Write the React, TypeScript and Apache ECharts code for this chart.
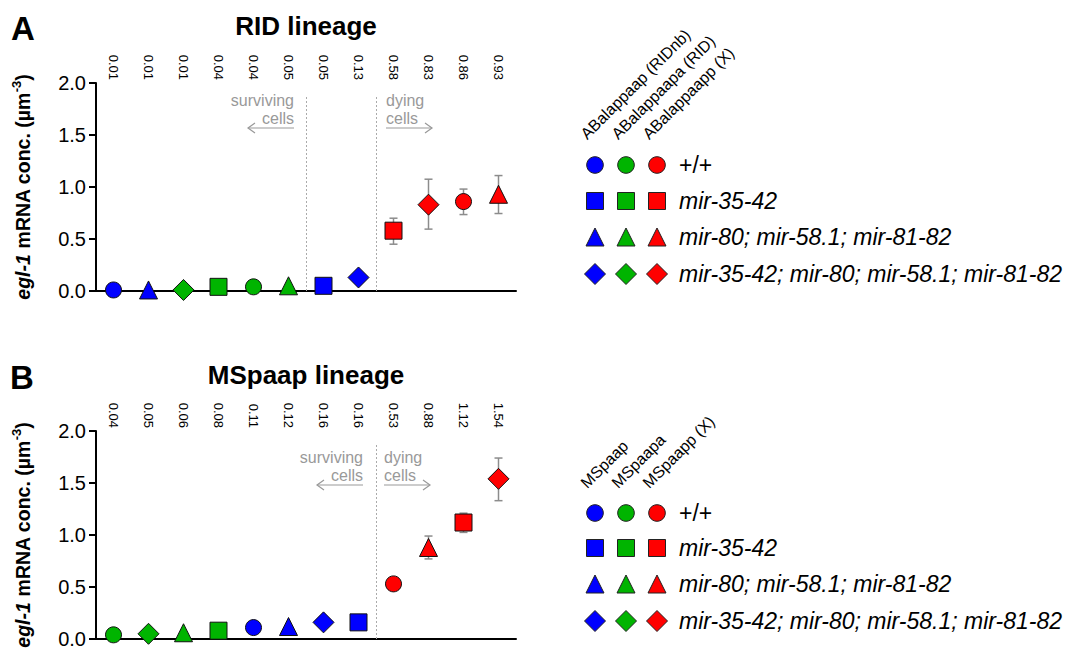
import React, { useEffect, useRef } from 'react';
import * as echarts from 'echarts';

// ---------- data ----------
const genotypes = ['+/+', 'mir-35-42', 'mir-80; mir-58.1; mir-81-82', 'mir-35-42; mir-80; mir-58.1; mir-81-82'];
const cellNamesA = ['ABalappaap (RIDnb)', 'ABalappaapa (RID)', 'ABalappaapp (X)'];
const cellNamesB = ['MSpaap', 'MSpaapa', 'MSpaapp (X)'];
const yTicks = [0, 0.5, 1.0, 1.5, 2.0];

// Panel A: RID lineage
const valuesA = [0.01, 0.01, 0.01, 0.04, 0.04, 0.05, 0.05, 0.13, 0.58, 0.83, 0.86, 0.93];
const cellA = [0, 0, 1, 1, 1, 1, 0, 0, 2, 2, 2, 2];
const genoA = [0, 2, 3, 1, 0, 2, 1, 3, 1, 3, 0, 2];
const errLowA = [null, null, null, null, null, null, null, null, 0.45, 0.595, 0.735, 0.745];
const errHighA = [null, null, null, null, null, null, null, null, 0.70, 1.075, 0.98, 1.11];
const dividersA = [5.5, 7.5];

// Panel B: MSpaap lineage
const valuesB = [0.04, 0.05, 0.06, 0.08, 0.11, 0.12, 0.16, 0.16, 0.53, 0.88, 1.12, 1.54];
const cellB = [1, 1, 1, 1, 0, 0, 0, 0, 2, 2, 2, 2];
const genoB = [0, 3, 2, 1, 0, 2, 3, 1, 0, 2, 1, 3];
const errLowB = [null, null, null, null, null, null, null, null, 0.50, 0.77, 1.025, 1.33];
const errHighB = [null, null, null, null, null, null, null, null, 0.56, 0.99, 1.21, 1.74];
const dividersB = [7.5];

// ---------- styles ----------
const FONT = 'Liberation Sans, Arial, Helvetica, sans-serif';
const COLORS = ['#0000FF', '#00B400', '#FF0000'];
const SYMBOLS = ['circle', 'rect', 'triangle', 'diamond'];
const SIZES = [16, 17, 18, 21];
const GRAY = '#999999';

const GRID_LEFT = 96;
const GRID_W = 420;
const GRID_H = 208;
const GRID_TOPS = [83, 431];

function scatterData(values: number[], cells: number[], genos: number[]) {
  return values.map((v, i) => ({
    value: [i, v],
    symbol: SYMBOLS[genos[i]],
    symbolSize: SIZES[genos[i]],
    itemStyle: { color: COLORS[cells[i]], borderColor: '#111', borderWidth: 1, opacity: 1 },
  }));
}

function errData(lo: (number | null)[], hi: (number | null)[]) {
  const out: number[][] = [];
  lo.forEach((l, i) => {
    const h = hi[i];
    if (l != null && h != null) out.push([i, l, h]);
  });
  return out;
}

const errRender = (params: any, api: any) => {
  const x = api.value(0);
  const p1 = api.coord([x, api.value(2)]);
  const p2 = api.coord([x, api.value(1)]);
  const cap = 4;
  const style = { stroke: '#8c8c8c', lineWidth: 1.5 };
  return {
    type: 'group',
    children: [
      { type: 'line', shape: { x1: p1[0], y1: p1[1], x2: p2[0], y2: p2[1] }, style },
      { type: 'line', shape: { x1: p1[0] - cap, y1: p1[1], x2: p1[0] + cap, y2: p1[1] }, style },
      { type: 'line', shape: { x1: p2[0] - cap, y1: p2[1], x2: p2[0] + cap, y2: p2[1] }, style },
    ],
  };
};

function xAxes(gridIndex: number, values: number[]) {
  return [
    {
      gridIndex,
      type: 'value',
      min: -0.5,
      max: 11.5,
      axisLine: { show: true, onZero: false, lineStyle: { color: '#000', width: 2 } },
      axisTick: { show: false },
      axisLabel: { show: false },
      splitLine: { show: false },
    },
    {
      gridIndex,
      type: 'category',
      position: 'top',
      data: values.map((v) => v.toFixed(2)),
      boundaryGap: true,
      axisLine: { show: false, onZero: false },
      axisTick: { show: false },
      axisLabel: { rotate: 90, fontSize: 13, margin: 3, color: '#000', interval: 0, fontFamily: FONT },
      splitLine: { show: false },
    },
  ];
}

function yAxis(gridIndex: number) {
  return {
    gridIndex,
    type: 'value',
    min: yTicks[0],
    max: yTicks[yTicks.length - 1],
    interval: 0.5,
    axisLine: { show: true, onZero: false, lineStyle: { color: '#000', width: 2 } },
    axisTick: { show: true, length: 7, lineStyle: { color: '#000', width: 2 } },
    axisLabel: { formatter: (v: number) => v.toFixed(1), fontSize: 20, color: '#000', margin: 10, fontFamily: FONT },
    splitLine: { show: false },
    name: '{i|egl-1} mRNA conc. (µm{s|-3})',
    nameLocation: 'middle',
    nameRotate: 90,
    nameGap: 60,
    nameTextStyle: {
      fontSize: 19.5,
      fontWeight: 'bold',
      color: '#000',
      fontFamily: FONT,
      lineHeight: 26,
      rich: {
        i: { fontSize: 19.5, fontWeight: 'bold', fontStyle: 'italic', color: '#000', fontFamily: FONT, lineHeight: 26 },
        s: { fontSize: 13, fontWeight: 'bold', color: '#000', fontFamily: FONT, lineHeight: 13, verticalAlign: 'top' },
      },
    },
  };
}

function dividerLines(divs: number[]) {
  return {
    silent: true,
    symbol: ['none', 'none'],
    label: { show: false },
    lineStyle: { color: '#aaaaaa', type: [2, 2], width: 1 },
    data: divs.map((d) => [{ coord: [d, 0] }, { coord: [d, 1.88] }]),
  };
}

function arrow(x1: number, x2: number, y: number) {
  const dir = x2 > x1 ? 1 : -1;
  return [
    { type: 'line', shape: { x1, y1: y, x2, y2: y }, style: { stroke: GRAY, lineWidth: 1.2 } },
    {
      type: 'polyline',
      shape: { points: [[x2 - dir * 7, y - 5], [x2, y], [x2 - dir * 7, y + 5]] },
      style: { stroke: GRAY, lineWidth: 1.2, fill: 'none' },
    },
  ];
}

function annot(survRight: number | null, dyingLeft: number, y: number) {
  const els: any[] = [];
  if (survRight != null) {
    els.push({
      type: 'text',
      x: survRight,
      y: y,
      style: { text: 'surviving\ncells', fill: GRAY, font: `16px ${FONT}`, align: 'right', verticalAlign: 'top', lineHeight: 18 },
    });
    els.push(...arrow(survRight, survRight - 46, y + 37));
  }
  els.push({
    type: 'text',
    x: dyingLeft,
    y: y,
    style: { text: 'dying\ncells', fill: GRAY, font: `16px ${FONT}`, align: 'left', verticalAlign: 'top', lineHeight: 18 },
  });
  els.push(...arrow(dyingLeft, dyingLeft + 46, y + 37));
  return els;
}

function markerShape(geno: number, cx: number, cy: number, color: string) {
  const style = { fill: color, stroke: '#222', lineWidth: 1 };
  if (geno === 0) return { type: 'circle', shape: { cx, cy, r: 8.3 }, style };
  if (geno === 1) return { type: 'rect', shape: { x: cx - 8.5, y: cy - 8.5, width: 17, height: 17 }, style };
  if (geno === 2)
    return { type: 'polygon', shape: { points: [[cx, cy - 9], [cx + 9, cy + 9], [cx - 9, cy + 9]] }, style };
  return { type: 'polygon', shape: { points: [[cx, cy - 10.5], [cx + 10.5, cy], [cx, cy + 10.5], [cx - 10.5, cy]] }, style };
}

function legend(cellNames: string[], rowYs: number[], headerY: number) {
  const colX = [595, 626, 657];
  const els: any[] = [];
  cellNames.forEach((n, c) => {
    els.push({
      type: 'text',
      x: colX[c] - 6,
      y: headerY,
      rotation: Math.PI / 4,
      style: { text: n, fill: '#000', font: `16px ${FONT}`, align: 'left', verticalAlign: 'bottom' },
    });
  });
  genotypes.forEach((g, r) => {
    colX.forEach((x, c) => els.push(markerShape(r, x, rowYs[r], COLORS[c])));
    els.push({
      type: 'text',
      x: 679,
      y: rowYs[r],
      style: {
        text: g,
        fill: '#000',
        font: `${r === 0 ? 'normal' : 'italic'} 23px ${FONT}`,
        align: 'left',
        verticalAlign: 'middle',
      },
    });
  });
  return els;
}

export default function App() {
  const ref = useRef<HTMLDivElement>(null);
  useEffect(() => {
    const chart = echarts.init(ref.current!, null, { renderer: 'svg' });
    const option: any = {
      animation: false,
      backgroundColor: '#fff',
      grid: GRID_TOPS.map((t) => ({ left: GRID_LEFT, top: t, width: GRID_W, height: GRID_H })),
      xAxis: [...xAxes(0, valuesA), ...xAxes(1, valuesB)],
      yAxis: [yAxis(0), yAxis(1)],
      series: [
        {
          type: 'custom',
          xAxisIndex: 0,
          yAxisIndex: 0,
          renderItem: errRender,
          data: errData(errLowA, errHighA),
          encode: { x: 0, y: [1, 2] },
          z: 1,
        },
        {
          type: 'scatter',
          xAxisIndex: 0,
          yAxisIndex: 0,
          data: scatterData(valuesA, cellA, genoA),
          markLine: dividerLines(dividersA),
          z: 3,
        },
        {
          type: 'custom',
          xAxisIndex: 2,
          yAxisIndex: 1,
          renderItem: errRender,
          data: errData(errLowB, errHighB),
          encode: { x: 0, y: [1, 2] },
          z: 1,
        },
        {
          type: 'scatter',
          xAxisIndex: 2,
          yAxisIndex: 1,
          data: scatterData(valuesB, cellB, genoB),
          markLine: dividerLines(dividersB),
          z: 3,
        },
      ],
      graphic: [
        { type: 'text', x: 11, y: 28, style: { text: 'A', fill: '#000', font: `bold 33px ${FONT}`, verticalAlign: 'middle' } },
        { type: 'text', x: 10, y: 377, style: { text: 'B', fill: '#000', font: `bold 33px ${FONT}`, verticalAlign: 'middle' } },
        { type: 'text', x: 306, y: 26, style: { text: 'RID lineage', fill: '#000', font: `bold 26px ${FONT}`, align: 'center', verticalAlign: 'middle' } },
        { type: 'text', x: 306, y: 375, style: { text: 'MSpaap lineage', fill: '#000', font: `bold 26px ${FONT}`, align: 'center', verticalAlign: 'middle' } },
        ...annot(294, 386, 91),
        ...annot(363, 384, 448),
        ...legend(cellNamesA, [165, 201, 237, 274], 142),
        ...legend(cellNamesB, [513, 548, 584, 621], 491),
      ],
    };
    chart.setOption(option);
    return () => chart.dispose();
  }, []);
  return (
    <div
      ref={ref}
      style={{ position: 'absolute', left: 0, top: 0, width: 1077, height: 650, background: '#fff' }}
    />
  );
}
